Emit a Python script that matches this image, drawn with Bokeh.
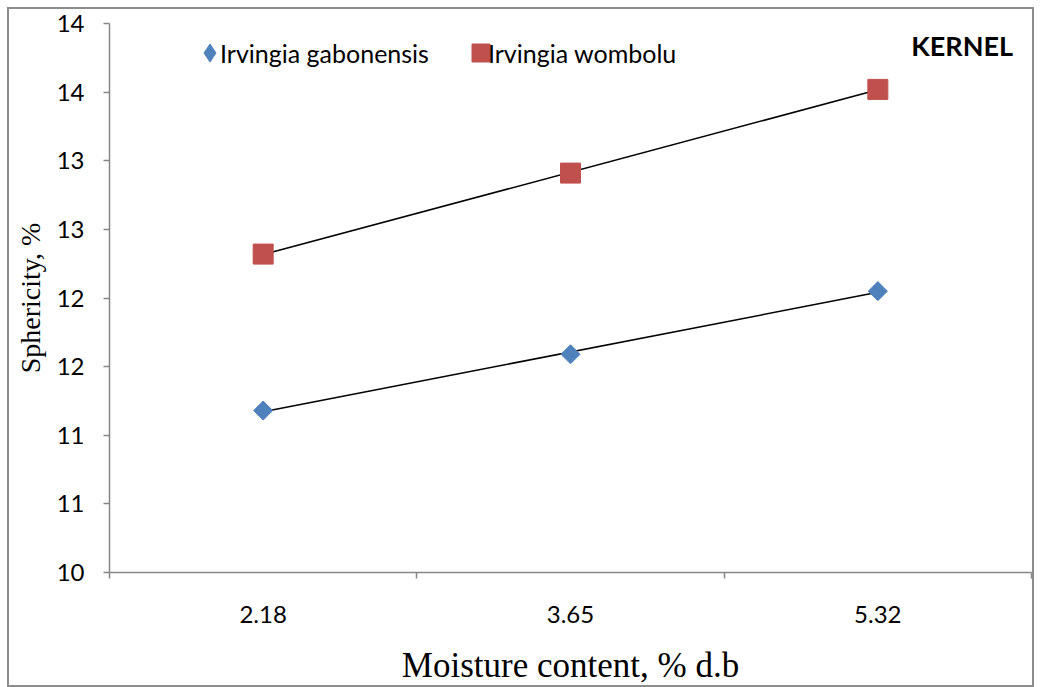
import numpy as np
from bokeh.plotting import figure
from bokeh.models import (FixedTicker, CustomJSTickFormatter, Label, Legend,
                          LegendItem, Range1d)
from bokeh.embed import file_html
from bokeh.resources import INLINE

# ---- data ----
moisture = ["2.18", "3.65", "5.32"]
gabonensis = [11.18, 11.59, 12.05]
wombolu = [12.32, 12.91, 13.52]
y_ticks = [10, 10.5, 11, 11.5, 12, 12.5, 13, 13.5, 14]
series_names = ["Irvingia gabonensis", "Irvingia wombolu"]

xpos = [i + 0.5 for i in range(len(moisture))]
bounds = [i for i in range(len(moisture) + 1)]

p = figure(width=1027, height=680, x_range=Range1d(0, len(moisture)),
           y_range=Range1d(10, 14), output_backend="svg", toolbar_location=None,
           min_border_left=100, min_border_right=5, min_border_top=14,
           min_border_bottom=117)
p.styles = {"border": "2px solid #8c8c8c", "margin-left": "7px",
            "margin-top": "7px"}
p.xgrid.visible = False
p.ygrid.visible = False
p.outline_line_color = None
p.background_fill_color = "white"
p.border_fill_color = "white"

axis_col = "#868686"
tick_font_size = "24px"

# y axis
ya = p.yaxis[0]
ya.ticker = FixedTicker(ticks=y_ticks, minor_ticks=[])
ya.formatter = CustomJSTickFormatter(code="return Math.round(tick).toString();")
ya.axis_line_color = axis_col
ya.axis_line_width = 1.5
ya.major_tick_line_color = axis_col
ya.major_tick_line_width = 1.5
ya.major_tick_out = 6
ya.major_tick_in = 0
ya.major_label_standoff = 19
ya.major_label_text_font = "Lato"
ya.major_label_text_font_size = tick_font_size
ya.major_label_text_color = "black"
ya.axis_label = "Sphericity, %"
ya.axis_label_text_font = "Liberation Serif"
ya.axis_label_text_font_size = "28px"
ya.axis_label_text_font_style = "normal"
ya.axis_label_text_color = "black"
ya.axis_label_standoff = 8

# x axis
xa = p.xaxis[0]
xa.ticker = FixedTicker(ticks=xpos, minor_ticks=bounds)
xa.major_label_overrides = {x: m for x, m in zip(xpos, moisture)}
xa.axis_line_color = axis_col
xa.axis_line_width = 1.5
xa.major_tick_line_color = None
xa.major_tick_out = 0
xa.major_tick_in = 0
xa.minor_tick_line_color = axis_col
xa.minor_tick_line_width = 1.5
xa.minor_tick_out = 6
xa.minor_tick_in = 0
xa.major_label_standoff = 27
xa.major_label_text_font = "Lato"
xa.major_label_text_font_size = tick_font_size
xa.major_label_text_color = "black"
xa.axis_label = "Moisture content, % d.b"
xa.axis_label_text_font = "Liberation Serif"
xa.axis_label_text_font_size = "35px"
xa.axis_label_text_font_style = "normal"
xa.axis_label_text_color = "black"
xa.axis_label_standoff = 20

# trendlines (linear fit)
trend = []
for vals in (gabonensis, wombolu):
    k, b = np.polyfit(xpos, vals, 1)
    xs = [xpos[0], xpos[-1]]
    trend.append(p.line(xs, [k * x + b for x in xs], line_color="black",
                        line_width=1.5))

blue = "#4F81BD"
red = "#C0504D"
r1 = p.scatter(xpos, gabonensis, marker="square", angle=np.pi / 4, size=13.5,
               fill_color=blue, line_color=blue)
r2 = p.scatter(xpos, wombolu, marker="square", size=20,
               fill_color=red, line_color=red)

# legend proxies: size 0 in the plot (legend glyph size comes from the legend box)
proxy1 = p.scatter(xpos, gabonensis, marker="diamond", size=0,
                   fill_color=blue, line_color=blue)
proxy2 = p.scatter(xpos, wombolu, marker="square", size=0,
                   fill_color=red, line_color=red)

common = dict(orientation="horizontal", margin=0, border_line_color=None,
              background_fill_alpha=0, padding=0, label_standoff=0,
              label_text_font="Lato", label_text_font_size="25px",
              label_text_color="black", glyph_height=45)
# glyph part of the legend
lg_glyphs = Legend(items=[LegendItem(label=" ", renderers=[proxy1]),
                          LegendItem(label=" ", renderers=[proxy2])],
                   location=(78, 497), glyph_width=45, spacing=206, **common)
# text part of the legend (line glyphs with zero width are invisible)
lg_text = Legend(items=[LegendItem(label=series_names[0], renderers=[trend[0]]),
                        LegendItem(label=series_names[1], renderers=[trend[1]])],
                 location=(111, 497), glyph_width=0, spacing=59, **common)
p.add_layout(lg_glyphs)
p.add_layout(lg_text)

p.add_layout(Label(x=2.94, y=13.84, text="KERNEL", text_font="Lato",
                   text_font_style="bold", text_font_size="27px",
                   text_align="right", text_baseline="middle",
                   text_color="black"))

open("out.html", "w").write(file_html(p, INLINE))
